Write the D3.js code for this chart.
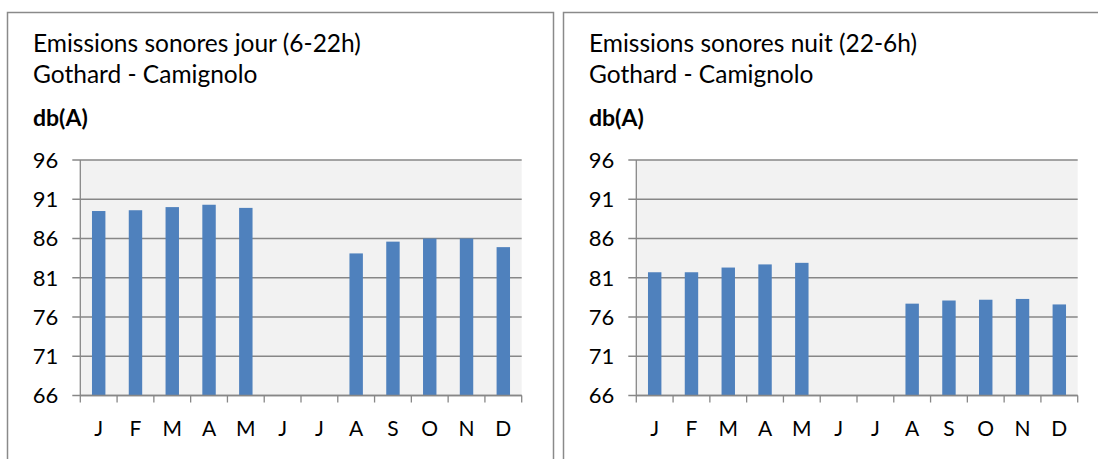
<!DOCTYPE html>
<html>
<head>
<meta charset="utf-8">
<script src="https://cdn.jsdelivr.net/npm/d3@7"></script>
<style>
  html, body { margin: 0; padding: 0; background: #ffffff; }
  svg { display: block; }
  text { font-family: Lato, "Open Sans", sans-serif; fill: #000; }
</style>
</head>
<body>
<svg id="chart" width="1098" height="459"></svg>
<script>
const months = ["J", "F", "M", "A", "M", "J", "J", "A", "S", "O", "N", "D"];
const dayValues = [89.5, 89.6, 90.0, 90.3, 89.9, null, null, 84.1, 85.6, 86.0, 86.0, 84.9];
const nightValues = [81.7, 81.7, 82.3, 82.7, 82.9, null, null, 77.7, 78.1, 78.2, 78.3, 77.6];
const yTicks = [66, 71, 76, 81, 86, 91, 96];
const titles = [
  ["Emissions sonores jour (6-22h)", "Gothard - Camignolo"],
  ["Emissions sonores nuit (22-6h)", "Gothard - Camignolo"]
];
const unitLabel = "db(A)";

const svg = d3.select("#chart");

function drawPanel(ox, values, titleLines) {
  const g = svg.append("g").attr("transform", `translate(${ox},0)`);
  g.append("rect")
    .attr("x", 0.5).attr("y", 12.5)
    .attr("width", 546).attr("height", 470)
    .attr("fill", "none").attr("stroke", "#8a8a8a").attr("stroke-width", 1.5);

  const left = 73.3, right = 514.7, top = 160, bottom = 395.5;

  g.append("rect").attr("x", left).attr("y", top)
    .attr("width", right - left).attr("height", bottom - top)
    .attr("fill", "#f2f2f2");

  const x = d3.scaleBand().domain(d3.range(months.length)).range([left, right])
    .paddingInner(0.635).paddingOuter(0.3175);
  const xb = d3.scaleBand().domain(d3.range(months.length)).range([left, right]);
  const y = d3.scaleLinear().domain([66, 96]).range([bottom, top]);

  g.append("g").selectAll("line").data(yTicks).join("line")
    .attr("x1", left - 8).attr("x2", right)
    .attr("y1", d => y(d)).attr("y2", d => y(d))
    .attr("stroke", "#878787").attr("stroke-width", 1.3);

  g.append("g").selectAll("text").data(yTicks).join("text")
    .attr("x", left - 22).attr("y", d => y(d)).attr("dy", "0.36em")
    .attr("text-anchor", "end").attr("font-size", 22)
    .text(d => d);

  g.append("g").selectAll("rect").data(values.map((v, i) => ({v, i})).filter(d => d.v != null))
    .join("rect")
    .attr("x", d => x(d.i)).attr("width", x.bandwidth())
    .attr("y", d => y(d.v)).attr("height", d => bottom - y(d.v))
    .attr("fill", "#4f81bd");

  g.append("line").attr("x1", left).attr("x2", left).attr("y1", top).attr("y2", bottom)
    .attr("stroke", "#878787").attr("stroke-width", 1.3);

  g.append("line").attr("x1", left).attr("x2", right).attr("y1", bottom).attr("y2", bottom)
    .attr("stroke", "#878787").attr("stroke-width", 1.3);
  const bounds = d3.range(months.length + 1).map(i => i < months.length ? xb(i) : right);
  g.append("g").selectAll("line").data(bounds).join("line")
    .attr("x1", d => d).attr("x2", d => d).attr("y1", bottom).attr("y2", bottom + 7)
    .attr("stroke", "#878787").attr("stroke-width", 1.3);

  g.append("g").selectAll("text").data(months).join("text")
    .attr("x", (d, i) => xb(i) + xb.bandwidth() / 2).attr("y", 428).attr("dy", "0.36em")
    .attr("text-anchor", "middle").attr("font-size", 21)
    .text(d => d);

  g.append("text").attr("x", 26).attr("y", 52).attr("font-size", 24.5).text(titleLines[0]);
  g.append("text").attr("x", 26).attr("y", 83).attr("font-size", 24.5).text(titleLines[1]);
  g.append("text").attr("x", 26).attr("y", 126).attr("font-size", 23).attr("font-weight", "bold").text(unitLabel);
}

drawPanel(7, dayValues, titles[0]);
drawPanel(563, nightValues, titles[1]);
</script>
</body>
</html>
